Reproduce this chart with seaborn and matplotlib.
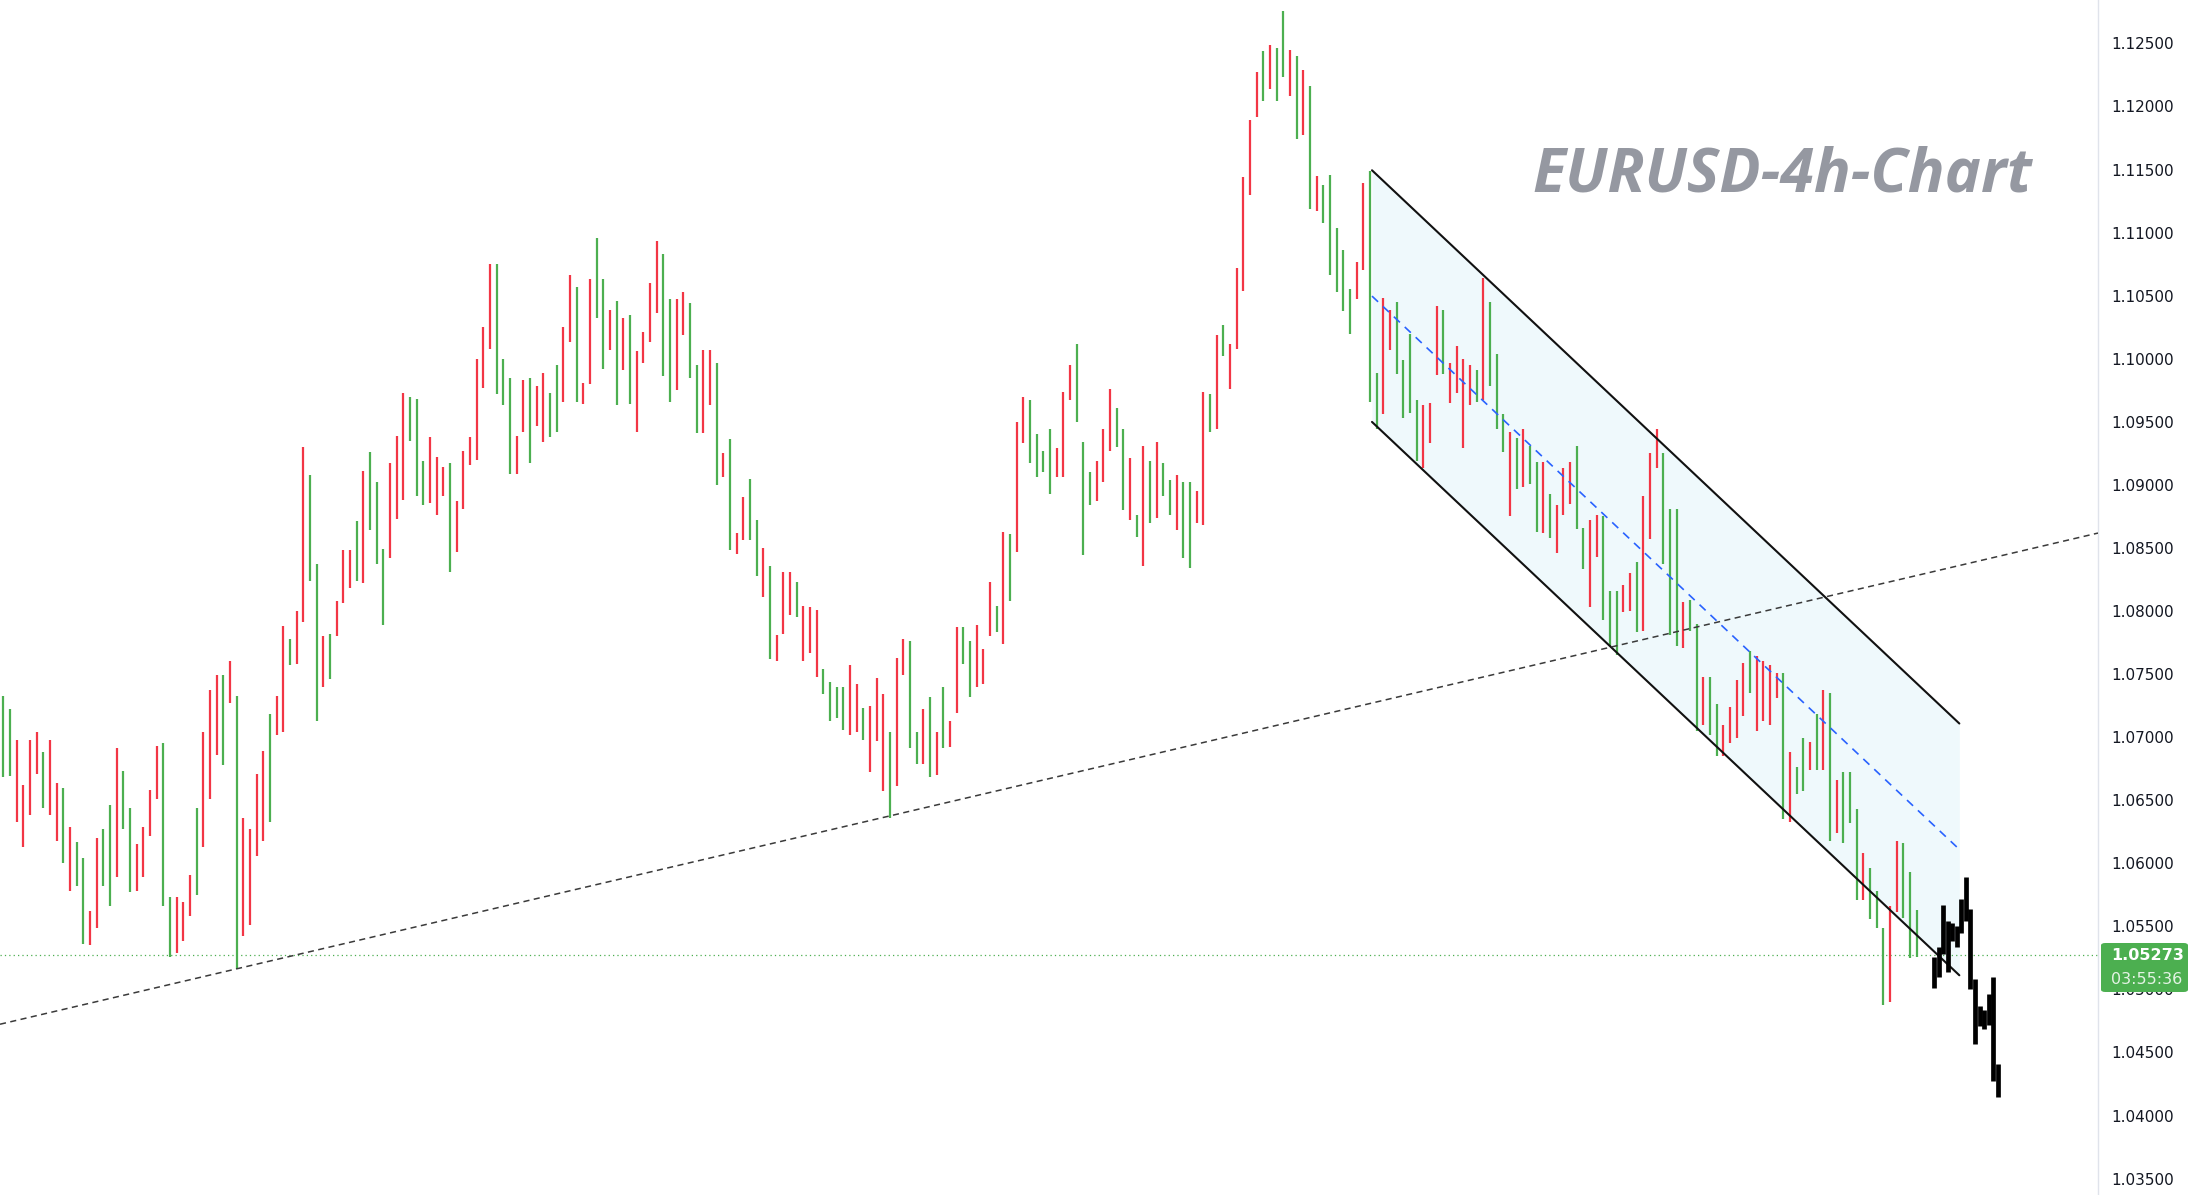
import pandas as pd
import seaborn as sns
import matplotlib.pyplot as plt
from matplotlib.patches import FancyBboxPatch

# 4h bars, left to right, high / low in 1e-4 above 1.0000
highs = [733, 722, 698, 662, 698, 704, 688, 698, 664, 660,
         629, 617, 604, 562, 620, 627, 646, 691, 673, 644,
         615, 629, 658, 693, 695, 573, 573, 569, 591, 644,
         704, 737, 749, 749, 760, 733, 636, 627, 671, 689,
         718, 733, 788, 778, 800, 930, 908, 837, 780, 782,
         808, 848, 848, 871, 911, 926, 902, 849, 917, 939,
         973, 970, 968,
         919, 938, 922, 914, 917, 887, 927, 938, 1000, 1025,
         1075, 1075, 1000, 985, 939, 983, 985, 978, 989, 973,
         995, 1025, 1066, 1057, 981, 1063, 1096, 1063, 1039, 1046,
         1032, 1035, 1006, 1021, 1060, 1093, 1083, 1047, 1047, 1053,
         1044, 995, 1007, 1007, 997, 925, 936, 862, 890, 905,
         872, 850, 836, 781, 831, 831, 823, 804, 803, 801,
         754, 744, 740,
         740, 757, 742, 723, 725, 747, 734, 704, 763, 778,
         776, 704, 722, 732, 704, 740, 713, 787, 787, 776,
         789, 770, 823, 804, 863, 861, 950, 970, 967, 940,
         927, 944, 929, 974, 995, 1012, 934, 910, 919, 944,
         976, 961, 944, 921, 876, 931, 919, 934, 917, 904,
         908, 902, 902, 895, 974, 972, 1019, 1027, 1012, 1072,
         1144, 1189, 1227,
         1244, 1249, 1246, 1276, 1245, 1240, 1229, 1216,
         1145, 1138, 1146, 1104, 1086, 1055, 1077, 1139, 1149, 989,
         1048, 1039, 1045, 999, 1020, 967, 963, 965, 1042, 1039,
         997, 1010, 1000, 995, 991, 1064, 1045, 1004, 956, 942,
         937, 944, 931, 918, 918, 893, 884, 913, 918, 931,
         866, 872, 876, 875, 816, 816, 821, 830, 839, 891,
         925, 944, 925, 881, 881,
         807, 809, 790, 748, 748, 726, 710, 724, 745, 759,
         768, 764, 760, 757, 751, 751, 688, 676, 699, 696,
         718, 737, 735, 666, 672, 672, 643, 608, 596, 578,
         549, 566, 618, 616, 593, 563]

lows = [668, 669, 633, 613, 638, 671, 644, 638, 618, 600,
        578, 582, 536, 535, 549, 582, 566, 589, 627, 577,
        578, 589, 622, 651, 566, 526, 529, 538, 558, 575,
        613, 651, 686, 678, 727, 516, 542, 551, 606, 618,
        633, 702, 704, 757, 758, 791, 824, 713, 740, 746,
        780, 806, 818, 824, 822, 864, 837, 789, 842, 873,
        888, 935, 891,
        884, 886, 876, 891, 831, 847, 881, 916, 920, 977,
        1008, 972, 963, 909, 909, 942, 917, 947, 934, 938,
        942, 966, 1013, 966, 964, 980, 1032, 992, 1007, 963,
        991, 964, 942, 997, 1013, 1036, 986, 966, 975, 1019,
        985, 941, 941, 963, 900, 906, 848, 845, 856, 856,
        828, 811, 762, 760, 782, 797, 795, 760, 767, 748,
        734, 713, 715,
        706, 702, 704, 698, 672, 697, 657, 636, 661, 749,
        691, 679, 679, 668, 670, 691, 692, 719, 758, 732,
        740, 742, 780, 783, 774, 808, 847, 933, 917, 906,
        910, 893, 906, 906, 967, 950, 844, 884, 887, 902,
        927, 930, 880, 872, 859, 836, 870, 874, 891, 876,
        864, 842, 834, 870, 868, 942, 944, 1002, 976, 1008,
        1054, 1130, 1192,
        1204, 1214, 1204, 1223, 1208, 1174, 1177, 1119,
        1117, 1108, 1066, 1053, 1038, 1020, 1047, 1070, 966, 944,
        956, 1007, 988, 953, 957, 919, 913, 933, 987, 988,
        965, 973, 929, 963, 966, 967, 978, 944, 926, 875,
        897, 898, 901, 863, 862, 858, 846, 876, 885, 865,
        833, 803, 843, 793, 772, 765, 799, 800, 783, 784,
        857, 913, 837, 781, 772,
        771, 784, 705, 710, 702, 685, 685, 695, 699, 717,
        735, 705, 713, 710, 731, 635, 633, 655, 657, 674,
        674, 674, 618, 624, 616, 632, 571, 571, 556, 549,
        488, 490, 561, 557, 525, 526]

# 1 = green bar, 0 = red bar
up = [1, 1, 0, 0, 0, 0, 1, 0, 0, 1,
      0, 1, 1, 0, 0, 1, 1, 0, 1, 1,
      0, 0, 0, 0, 1, 1, 0, 0, 0, 1,
      0, 0, 0, 1, 0, 1, 0, 0, 0, 0,
      1, 0, 0, 1, 0, 0, 1, 1, 0, 1,
      0, 0, 0, 1, 0, 1, 1, 1, 0, 0,
      0, 1, 1,
      1, 0, 0, 0, 1, 0, 0, 0, 0, 0,
      0, 1, 1, 1, 0, 0, 1, 0, 0, 1,
      1, 0, 0, 1, 0, 0, 1, 1, 0, 1,
      0, 1, 0, 0, 0, 0, 1, 1, 0, 0,
      1, 1, 0, 0, 1, 0, 1, 0, 0, 1,
      1, 0, 1, 0, 0, 0, 1, 0, 0, 0,
      1, 1, 1,
      1, 0, 0, 1, 0, 0, 0, 1, 0, 0,
      1, 1, 0, 1, 0, 1, 0, 0, 1, 1,
      0, 0, 0, 1, 0, 1, 0, 0, 1, 1,
      1, 1, 0, 0, 0, 1, 1, 1, 0, 0,
      0, 1, 1, 0, 1, 0, 1, 0, 1, 1,
      0, 1, 1, 0, 0, 1, 0, 1, 0, 0,
      0, 0, 0,
      1, 0, 1, 1, 0, 1, 0, 1,
      0, 1, 1, 1, 1, 1, 0, 0, 1, 1,
      0, 0, 1, 1, 1, 1, 0, 0, 0, 1,
      0, 0, 0, 0, 1, 0, 1, 1, 1, 0,
      1, 0, 1, 1, 0, 1, 0, 0, 0, 1,
      1, 0, 0, 1, 1, 1, 0, 0, 1, 0,
      0, 0, 1, 1, 1,
      0, 1, 1, 0, 1, 1, 0, 0, 0, 0,
      1, 0, 0, 0, 0, 1, 0, 1, 1, 0,
      1, 0, 1, 0, 1, 1, 1, 0, 1, 1,
      1, 0, 0, 1, 1, 1]

# black projected bars after the last candle
proj_highs = [526, 534, 567, 554, 553, 550, 572, 589, 564, 508, 487, 484, 496, 510, 441]
proj_lows = [501, 510, 528, 514, 538, 534, 545, 554, 500, 457, 471, 469, 472, 427, 415]

# descending channel (bar index, price)
channel_x = [205.3, 293.4]
channel_top = [1.11494, 1.07108]
channel_bottom = [1.09499, 1.05112]

# rising dashed support line, two points on it
trend_x = [16.0, 299.5]
trend_y = [1.04928, 1.08436]

tick_labels = ['1.03500', '1.04000', '1.04500', '1.05000', '1.05500', '1.06000',
               '1.06500', '1.07000', '1.07500', '1.08000', '1.08500', '1.09000',
               '1.09500', '1.10000', '1.10500', '1.11000', '1.11500', '1.12000',
               '1.12500']
last_price = 1.05273
countdown = '03:55:36'
title = 'EURUSD-4h-Chart'

GREEN = '#4caf50'
RED = '#f23645'

sns.set_style('white')
plt.rcParams['font.family'] = ['DejaVu Sans']

rows = []
for i, (h, l, u) in enumerate(zip(highs, lows, up)):
    side = 'up' if u else 'down'
    rows.append((i, 1 + min(h, l) / 10000, i, side))
    rows.append((i, 1 + max(h, l) / 10000, i, side))
bars = pd.DataFrame(rows, columns=['x', 'price', 'bar', 'side'])

start = len(highs) + 1.6
rows = []
for k, (h, l) in enumerate(zip(proj_highs, proj_lows)):
    rows.append((start + 0.6825 * k, 1 + l / 10000, k))
    rows.append((start + 0.6825 * k, 1 + h / 10000, k))
proj = pd.DataFrame(rows, columns=['x', 'price', 'bar'])

fig = plt.figure(figsize=(21.92, 11.95), dpi=100)
ax = fig.add_axes([0, 0, 2098 / 2192, 1])

# channel fill and lines
ax.fill_between(channel_x, channel_bottom, channel_top, color='#eff9fc', zorder=0.5, lw=0)

sns.lineplot(data=bars, x='x', y='price', units='bar', estimator=None, hue='side',
             palette={'up': GREEN, 'down': RED}, linewidth=1.6, legend=False,
             sort=False, ax=ax, solid_capstyle='butt', zorder=2)

ax.plot(channel_x, channel_top, color='#111111', lw=1.5, zorder=3)
ax.plot(channel_x, channel_bottom, color='#111111', lw=1.5, zorder=3)
mid = [(a + b) / 2 for a, b in zip(channel_top, channel_bottom)]
ax.plot(channel_x, mid, color='#2962ff', lw=1.2, dashes=(5, 4), zorder=3)

ax.axline((trend_x[0], trend_y[0]), (trend_x[1], trend_y[1]), color='#3a3a3a',
          lw=1.1, dashes=(4, 2.9), zorder=3)
ax.axhline(last_price, color=GREEN, lw=0.9, dashes=(1, 2.5), zorder=1)

sns.lineplot(data=proj, x='x', y='price', units='bar', estimator=None, color='black',
             linewidth=3.4, legend=False, sort=False, ax=ax, solid_capstyle='butt', zorder=4)

ax.set_xlim(-0.5, 314.2)
ax.set_ylim(1.03370, 1.12844)
ax.set_xlabel('')
ax.set_ylabel('')
ax.set_xticks([])
ax.set_yticks([float(t) for t in tick_labels])
ax.set_yticklabels(tick_labels)
ax.yaxis.tick_right()
ax.tick_params(axis='y', length=0, pad=9.5, labelsize=11, labelcolor='#131722')
for s in ['left', 'top', 'bottom']:
    ax.spines[s].set_visible(False)
ax.spines['right'].set_color('#e0e3eb')
ax.spines['right'].set_linewidth(1.0)

fig.text(1782 / 2192, 1 - 191.5 / 1195, title, ha='center', va='baseline',
         fontsize=44, fontweight='bold', fontstyle='italic', color='#9598a1',
         family=['Open Sans', 'DejaVu Sans'])

# last price tag on the axis
box = FancyBboxPatch((2101 / 2192, 1 - 992 / 1195), 87 / 2192, 49 / 1195,
                     boxstyle='round,pad=0,rounding_size=0.002', transform=fig.transFigure,
                     facecolor=GREEN, edgecolor='none', zorder=5)
fig.add_artist(box)
fig.text(2111 / 2192, 1 - 956 / 1195, f'{last_price:.5f}', ha='left', va='center',
         fontsize=11.5, color='white', fontweight='bold', zorder=6)
fig.text(2111 / 2192, 1 - 979 / 1195, countdown, ha='left', va='center',
         fontsize=11.5, color='white', alpha=0.85, zorder=6)

fig.savefig('out.png', dpi=100, facecolor='white')
